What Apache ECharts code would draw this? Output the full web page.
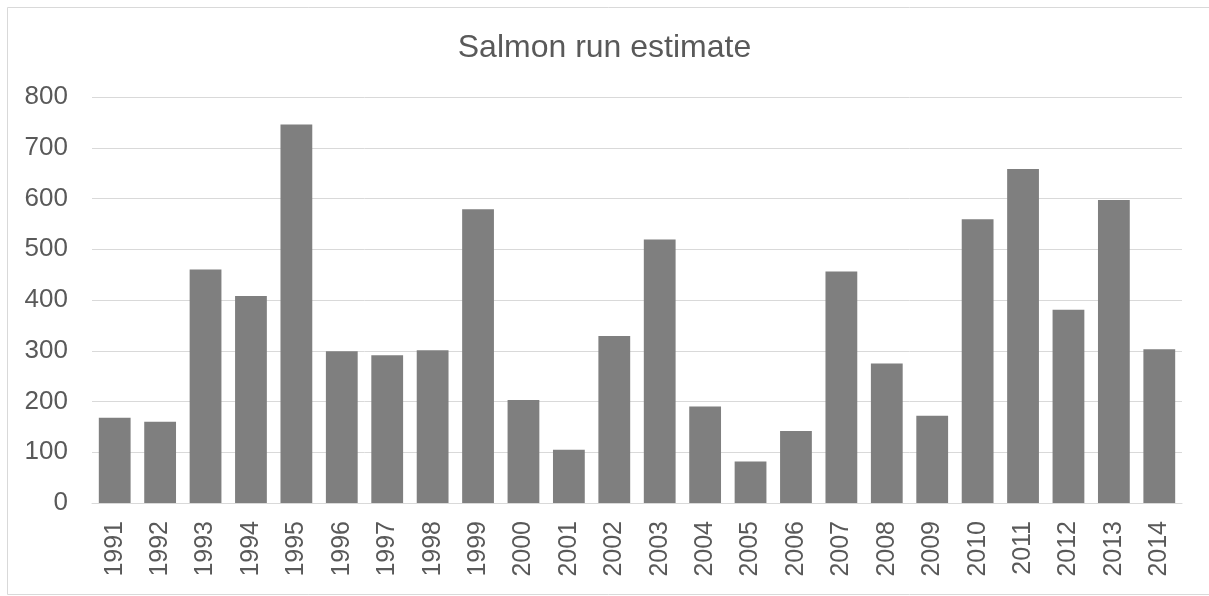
<!DOCTYPE html>
<html>
<head>
<meta charset="utf-8">
<title>Salmon run estimate</title>
<script src="https://cdn.jsdelivr.net/npm/echarts@6/dist/echarts.min.js"></script>
<style>
	html, body { margin: 0; padding: 0; background: #fff; }
	#chart { width: 1209px; height: 596px; }
</style>
</head>
<body>
<div id="chart"></div>
<script>
var years = ['1991', '1992', '1993', '1994', '1995', '1996', '1997', '1998', '1999', '2000', '2001', '2002',
	'2003', '2004', '2005', '2006', '2007', '2008', '2009', '2010', '2011', '2012', '2013', '2014'];
var runEstimate = [168, 160, 460, 408, 746, 299, 291, 301, 579, 203, 105, 329,
	519, 190, 82, 142, 456, 275, 172, 559, 658, 381, 597, 303];
var yTicks = [0, 100, 200, 300, 400, 500, 600, 700, 800];

var myChart = echarts.init(document.getElementById('chart'));
var font = 'Liberation Sans, Arial, sans-serif';

var option = {
	animation: false,
	backgroundColor: '#fff',
	title: {
		text: 'Salmon run estimate',
		left: 'center',
		top: 27,
		textStyle: {
			fontFamily: font,
			fontSize: 32,
			fontWeight: 'normal',
			color: '#595959'
		}
	},
	graphic: [{
		type: 'rect',
		shape: { x: 7.5, y: 7.5, width: 1300, height: 587 },
		style: { fill: 'none', stroke: '#d9d9d9', lineWidth: 1 },
		silent: true
	}],
	grid: {
		left: 92,
		right: 27,
		top: 97,
		bottom: 93
	},
	xAxis: {
		type: 'category',
		data: years,
		axisTick: { show: false },
		axisLine: { lineStyle: { color: '#d9d9d9', width: 1 } },
		axisLabel: {
			rotate: 90,
			interval: 0,
			margin: 18,
			fontFamily: font,
			fontSize: 25,
			color: '#595959'
		}
	},
	yAxis: {
		type: 'value',
		min: yTicks[0],
		max: yTicks[yTicks.length - 1],
		interval: 100,
		axisLine: { show: false },
		axisTick: { show: false },
		splitLine: { lineStyle: { color: '#d9d9d9', width: 1 } },
		axisLabel: {
			margin: 24,
			fontFamily: font,
			fontSize: 26,
			color: '#595959'
		}
	},
	series: [{
		type: 'bar',
		data: runEstimate,
		barCategoryGap: '30%',
		itemStyle: { color: '#7f7f7f' }
	}]
};
myChart.setOption(option);
</script>
</body>
</html>
